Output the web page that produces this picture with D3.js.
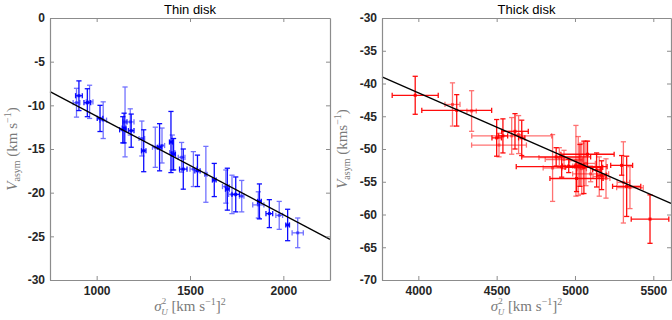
<!DOCTYPE html>
<html><head><meta charset="utf-8">
<script src="https://cdn.jsdelivr.net/npm/d3@7"></script>
<style>body{margin:0;background:#fff}svg{display:block}
.tk{font-family:Arial,'Liberation Sans',sans-serif;font-weight:bold;font-size:12px}</style></head>
<body><svg id="c" width="672" height="320"></svg>
<script>
// ---------- DATA ----------
const thinTitle = "Thin disk";
const thinSigma    = [905, 892, 950, 962, 1018, 1035, 1140, 1152, 1147, 1180, 1185, 1242, 1252, 1314, 1337, 1350, 1398, 1405, 1412, 1455, 1464, 1518, 1540, 1585, 1630, 1692, 1700, 1725, 1745, 1777, 1872, 1866, 1925, 1978, 2023, 2077];
const thinVasym    = [-8.9, -9.7, -9.7, -9.6, -11.5, -11.7, -12.8, -11.9, -12.6, -11.9, -12.9, -13.8, -15.2, -14.8, -14.8, -14.6, -14.2, -15.4, -15.6, -15.95, -17.3, -17.3, -17.5, -17.9, -18.55, -19.3, -19.6, -20.2, -20.2, -20.4, -21.0, -21.4, -22.4, -22.6, -23.7, -24.6];
const thinSigmaErr = [18, 18, 18, 18, 15, 18, 17, 12, 10, 20, 15, 15, 12, 15, 12, 14, 8, 14, 10, 18, 20, 18, 14, 6, 10, 18, 10, 18, 20, 12, 10, 30, 18, 18, 10, 30];
const thinVasymErr = [1.7, 1.65, 1.6, 1.9, 1.5, 2.1, 1.5, 4.0, 1.7, 1.5, 1.9, 2.0, 2.4, 2.3, 2.7, 2.0, 3.5, 2.0, 1.8, 1.7, 2.3, 2.0, 1.8, 3.2, 1.9, 1.9, 2.4, 2.2, 2.0, 1.8, 2.0, 1.5, 1.6, 1.6, 1.8, 1.7];
const thinFitSigma = [750, 2250];
const thinFitVasym = [-8.43, -25.35];
const thinXTicks = [1000, 1500, 2000];
const thinYTicks = [0, -5, -10, -15, -20, -25, -30];
const thinXDomain = [750, 2250];
const thinYDomain = [-30, 0];

const thickTitle = "Thick disk";
const thickSigma    = [3980, 4218, 4245, 4340, 4500, 4515, 4540, 4596, 4617, 4640, 4660, 4857, 4880, 4900, 4915, 4930, 4960, 5006, 5010, 5021, 5032, 5043, 5057, 5070, 5080, 5100, 5138, 5155, 5170, 5198, 5298, 5309, 5330, 5351, 5479];
const thickVasym    = [-41.8, -43.2, -44.1, -44.2, -48.3, -49.4, -48.0, -48.0, -47.3, -47.8, -48.3, -52.9, -51.2, -51.3, -52.7, -51.6, -52.6, -51.8, -54.5, -52.6, -52.5, -53.0, -52.8, -52.2, -50.8, -53.8, -53.2, -54.2, -54.0, -54.5, -52.5, -55.1, -55.7, -55.9, -60.7];
const thickSigmaErr = [147, 48, 223, 30, 30, 175, 30, 255, 85, 25, 20, 60, 220, 130, 290, 120, 40, 40, 170, 35, 25, 30, 120, 60, 170, 115, 25, 40, 30, 25, 70, 40, 90, 85, 120];
const thickVasymErr = [2.9, 3.3, 2.4, 3.1, 2.8, 1.8, 2.6, 2.8, 2.7, 2.9, 2.7, 5.1, 1.4, 1.5, 1.6, 1.4, 1.0, 5.4, 2.0, 4.5, 3.2, 3.9, 4.0, 3.4, 2.0, 1.2, 2.6, 3.0, 2.2, 3.0, 1.5, 6.2, 4.6, 3.2, 3.7];
const thickFitSigma = [3768, 5613];
const thickFitVasym = [-39.0, -58.3];
const thickXTicks = [4000, 4500, 5000, 5500];
const thickYTicks = [-30, -35, -40, -45, -50, -55, -60, -65, -70];
const thickXDomain = [3768, 5613];
const thickYDomain = [-70, -30];

// ---------- DRAW ----------
const svg = d3.select("#c");
const TOP = 18, BOT = 280;
const axisCol = "#8c8c8c", tickCol = "#262626", labCol = "#7a7a7a";
const fmt = d => String(d).replace("−", "-");

function panel(opt) {
  const x = d3.scaleLinear().domain(opt.xDomain).range([opt.left, opt.right]);
  const y = d3.scaleLinear().domain(opt.yDomain).range([BOT, TOP]);
  const g = svg.append("g");

  const pts = opt.sx.map((v, i) => ({x: v, y: opt.sy[i], ex: opt.ex[i], ey: opt.ey[i], i}));
  const cap = 2.6;
  const dg = g.append("g");
  pts.forEach(p => {
    const op = p.i % 2 === 0 ? 0.95 : 0.55;
    const e = dg.append("g").attr("stroke", opt.color).attr("stroke-width", 1.3).attr("opacity", op).attr("fill", "none");
    const cx = x(p.x), cy = y(p.y);
    const y1 = y(p.y + p.ey), y2 = y(p.y - p.ey);
    const x1 = x(p.x - p.ex), x2 = x(p.x + p.ex);
    e.append("line").attr("x1", cx).attr("x2", cx).attr("y1", y1).attr("y2", y2);
    e.append("line").attr("x1", cx - cap).attr("x2", cx + cap).attr("y1", y1).attr("y2", y1);
    e.append("line").attr("x1", cx - cap).attr("x2", cx + cap).attr("y1", y2).attr("y2", y2);
    e.append("line").attr("x1", x1).attr("x2", x2).attr("y1", cy).attr("y2", cy);
    e.append("line").attr("x1", x1).attr("x2", x1).attr("y1", cy - cap).attr("y2", cy + cap);
    e.append("line").attr("x1", x2).attr("x2", x2).attr("y1", cy - cap).attr("y2", cy + cap);
    dg.append("rect").attr("x", cx - 1.5).attr("y", cy - 1.5).attr("width", 3).attr("height", 3)
      .attr("fill", opt.color).attr("opacity", op);
  });

  g.append("line")
    .attr("x1", x(opt.fx[0])).attr("y1", y(opt.fy[0]))
    .attr("x2", x(opt.fx[1])).attr("y2", y(opt.fy[1]))
    .attr("stroke", "#000").attr("stroke-width", 1.3);

  const styleAxis = a => {
    a.attr("font-family", null).attr("font-size", null);
    a.select(".domain").attr("stroke", axisCol).attr("stroke-width", 1.2);
    a.selectAll(".tick line").attr("stroke", axisCol);
    a.selectAll(".tick text").attr("fill", tickCol).attr("class", "tk").attr("font-weight", "bold");
  };
  const ax = g.append("g").attr("transform", `translate(0,${BOT})`)
    .call(d3.axisBottom(x).tickValues(opt.xTicks).tickSizeInner(-4).tickSizeOuter(0).tickPadding(6).tickFormat(fmt));
  styleAxis(ax);
  const ay = g.append("g").attr("transform", `translate(${opt.left},0)`)
    .call(d3.axisLeft(y).tickValues(opt.yTicks).tickSizeInner(-4).tickSizeOuter(0).tickPadding(5).tickFormat(fmt));
  styleAxis(ay);
  const at = g.append("g").attr("transform", `translate(0,${TOP})`)
    .call(d3.axisTop(x).tickValues(opt.xTicks).tickSizeInner(-4).tickSizeOuter(0).tickFormat(""));
  styleAxis(at);
  const ar = g.append("g").attr("transform", `translate(${opt.right},0)`)
    .call(d3.axisRight(y).tickValues(opt.yTicks).tickSizeInner(-4).tickSizeOuter(0).tickFormat(""));
  styleAxis(ar);

  g.append("text").attr("x", (opt.left + opt.right) / 2).attr("y", 14).attr("text-anchor", "middle")
    .style("font-family", "Arial, 'Liberation Sans', sans-serif").style("font-size", "13px").attr("fill", "#000")
    .text(opt.title);

  const yl = g.append("text").attr("transform", `translate(${opt.ylabX},149) rotate(-90)`)
    .attr("text-anchor", "middle").attr("fill", labCol)
    .style("font-family", "'Liberation Serif', 'Times New Roman', serif").style("font-size", "15px");
  yl.append("tspan").attr("font-style", "italic").text("V");
  yl.append("tspan").style("font-size", "10px").attr("dy", 3).text("asym");
  yl.append("tspan").attr("dy", -3).text(opt.ylabUnit);
  yl.append("tspan").style("font-size", "10px").attr("dy", -6).text("−1");
  yl.append("tspan").attr("dy", 6).text(")");

  const xl = g.append("text").attr("x", (opt.left + opt.right) / 2).attr("y", 311)
    .attr("text-anchor", "middle").attr("fill", labCol)
    .style("font-family", "'Liberation Serif', 'Times New Roman', serif").style("font-size", "15px");
  xl.append("tspan").attr("font-style", "italic").text("σ");
  xl.append("tspan").style("font-size", "9px").attr("dy", -7).text("2");
  xl.append("tspan").style("font-size", "9px").attr("font-style", "italic").attr("dx", -5).attr("dy", 11).text("U");
  xl.append("tspan").attr("dy", -4).text("  [km s");
  xl.append("tspan").style("font-size", "10px").attr("dy", -6).text("−1");
  xl.append("tspan").attr("dy", 6).text("]");
  xl.append("tspan").style("font-size", "10px").attr("dy", -6).text("2");
}

panel({left: 50, right: 330, xDomain: thinXDomain, yDomain: thinYDomain,
  sx: thinSigma, sy: thinVasym, ex: thinSigmaErr, ey: thinVasymErr,
  fx: thinFitSigma, fy: thinFitVasym, xTicks: thinXTicks, yTicks: thinYTicks,
  color: "#0000ff", title: thinTitle, ylabX: 17, ylabUnit: " (km s"});
panel({left: 382, right: 671, xDomain: thickXDomain, yDomain: thickYDomain,
  sx: thickSigma, sy: thickVasym, ex: thickSigmaErr, ey: thickVasymErr,
  fx: thickFitSigma, fy: thickFitVasym, xTicks: thickXTicks, yTicks: thickYTicks,
  color: "#ff0000", title: thickTitle, ylabX: 347, ylabUnit: " (kms"});
</script></body></html>
